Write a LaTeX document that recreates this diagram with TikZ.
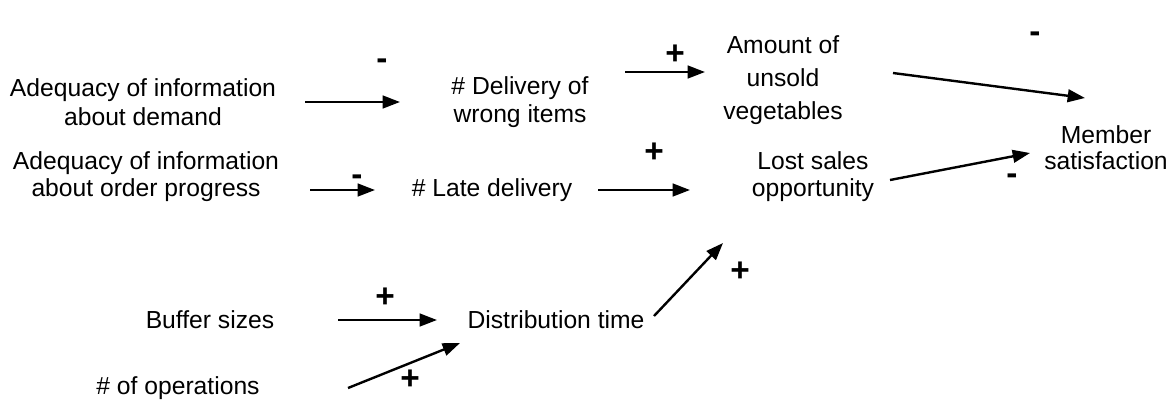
\documentclass[tikz,border=0pt]{standalone}
\usepackage{fontspec}
\setmainfont{Liberation Sans}
\usetikzlibrary{arrows.meta,calc}
\begin{document}
\begin{tikzpicture}[x=0.75pt,y=-0.75pt,
  lbl/.style={align=center,inner sep=0pt,font=\fontsize{18.5}{21.5}\selectfont},
  sgn/.style={inner sep=0pt,font=\fontsize{25}{25}\selectfont\bfseries},
  arr/.style={line width=1.8pt,-{Triangle[length=13pt,width=9.5pt]}}]
\useasboundingbox (0,0) rectangle (1169,401);
\node[lbl,font=\fontsize{18.5}{21.75}\selectfont] (ad) at (143,102) {Adequacy of information\\about demand};
\node[lbl,font=\fontsize{18.5}{21}\selectfont] (dw) at (520,102) {\# Delivery of\\wrong items};
\node[lbl,font=\fontsize{18.5}{24.75}\selectfont] (am) at (783,80) {Amount of\\unsold\\vegetables};
\node[lbl,font=\fontsize{18.5}{19.5}\selectfont] (ms) at (1106,148) {Member\\satisfaction};
\node[lbl,font=\fontsize{18.5}{20.25}\selectfont] (ao) at (146,177) {Adequacy of information\\about order progress};
\node[lbl] (ld) at (492,190) {\# Late delivery};
\node[lbl,font=\fontsize{18.5}{20.25}\selectfont] (ls) at (813,177) {Lost sales\\opportunity};
\node[lbl] (bs) at (210,320) {Buffer sizes};
\node[lbl] (dt) at (556,320) {Distribution time};
\node[lbl] (op) at (178,388) {\# of operations};
% signs
\node[sgn] (s1) at (382,64) {-};
\node[sgn] (s2) at (675,55) {+};
\node[sgn] (s3) at (1035,37) {-};
\node[sgn] (s4) at (1012,179) {-};
\node[sgn] (s5) at (357,180) {-};
\node[sgn] (s6) at (654,153) {+};
\node[sgn] (s7) at (385,298) {+};
\node[sgn] (s8) at (410,380) {+};
\node[sgn] (s9) at (740,272) {+};
% arrows
\draw[arr] ($(ad)+(162,0)$) -- ($(dw)+(-120,0)$);
\draw[arr] ($(dw)+(105,-30)$) -- ($(am)+(-78,-8)$);
\draw[arr] ($(am)+(110,-7)$) -- ($(ms)+(-21,-50)$);
\draw[arr] ($(ls)+(77,3)$) -- ($(ms)+(-76,5)$);
\draw[arr] ($(ao)+(164,13)$) -- ($(ld)+(-117,0)$);
\draw[arr] ($(ld)+(106,0)$) -- ($(ls)+(-123,13)$);
\draw[arr] ($(bs)+(128,0)$) -- ($(dt)+(-119,0)$);
\draw[arr] ($(op)+(170,0)$) -- ($(dt)+(-96,23)$);
\draw[arr] ($(dt)+(98,-4)$) -- ($(ls)+(-90,66)$);
\end{tikzpicture}
\end{document}
